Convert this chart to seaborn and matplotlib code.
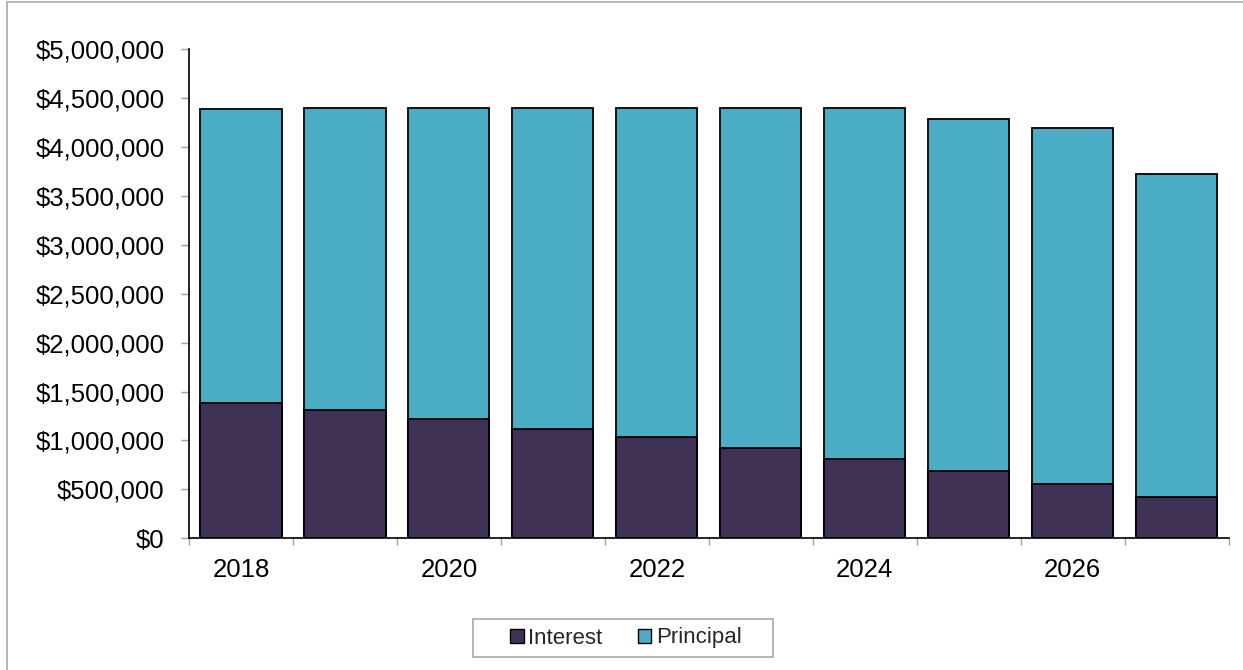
import matplotlib
matplotlib.use("Agg")
import matplotlib.pyplot as plt
from matplotlib.lines import Line2D
from matplotlib.patches import Patch, Rectangle
from matplotlib.ticker import FuncFormatter, FixedLocator
import seaborn as sns
import pandas as pd

# Annual debt service, split into interest and principal
years = [2018, 2019, 2020, 2021, 2022, 2023, 2024, 2025, 2026, 2027]
interest = [1383000, 1314000, 1222000, 1120000, 1032000, 926000, 810000, 685000, 552000, 425000]
principal = [3007000, 3086000, 3178000, 3280000, 3368000, 3474000, 3587000, 3600000, 3644000, 3295000]

interest_color = "#403254"
principal_color = "#4BACC6"

sns.set_theme(style="white")
plt.rcParams["font.family"] = ["Liberation Sans", "DejaVu Sans"]

df = pd.DataFrame({
    "year": [str(y) for y in years],
    "interest": interest,
    "total": [i + p for i, p in zip(interest, principal)],
})

W, H = 1243, 670
fig = plt.figure(figsize=(W / 100, H / 100), dpi=100)
ax = fig.add_axes([189 / W, 1 - 538.3 / H, (1228.7 - 189) / W, (538.3 - 49) / H])

# Stacked bars: full height in principal colour, interest drawn over the base
sns.barplot(data=df, x="year", y="total", color=principal_color, width=0.78,
            edgecolor="black", linewidth=1.3, saturation=1, ax=ax)
sns.barplot(data=df, x="year", y="interest", color=interest_color, width=0.78,
            edgecolor="black", linewidth=1.3, saturation=1, ax=ax)

ax.set_xlim(-0.5, len(years) - 0.5)
ax.set_ylim(0, 5000000)
ax.set_yticks(range(0, 5000001, 500000))
ax.yaxis.set_major_formatter(FuncFormatter(lambda v, _: f"${v:,.0f}"))

# Year labels on every other bar, tick marks on category boundaries
label_pos = list(range(0, len(years), 2))
ax.xaxis.set_major_locator(FixedLocator(label_pos))
ax.set_xticklabels([str(years[i]) for i in label_pos])
ax.xaxis.set_minor_locator(FixedLocator([i - 0.5 for i in range(len(years) + 1)]))
ax.tick_params(axis="x", which="major", length=0, pad=14.5, labelsize=18.5, labelcolor="black")
ax.tick_params(axis="x", which="minor", length=5, width=1, color="#A0A0A0", direction="out", bottom=True)
ax.tick_params(axis="y", which="major", length=6, width=1, color="#A0A0A0", direction="out",
               left=True, pad=11.5, labelsize=18.5, labelcolor="black")

ax.set_xlabel("")
ax.set_ylabel("")
for side in ("top", "right"):
    ax.spines[side].set_visible(False)
for side in ("left", "bottom"):
    ax.spines[side].set_color("black")
    ax.spines[side].set_linewidth(1.2)

# Legend below the plot, inside a plain grey box
handles = [
    Patch(facecolor=interest_color, edgecolor="black", linewidth=1.0, label="Interest"),
    Patch(facecolor=principal_color, edgecolor="black", linewidth=1.0, label="Principal"),
]
fig.add_artist(Rectangle((473 / W, 1 - 657 / H), 300 / W, 38 / H, transform=fig.transFigure,
                         facecolor="white", edgecolor="#A8A8A8", linewidth=1.2))
fig.legend(handles=handles, loc="center", bbox_to_anchor=(626 / W, 1 - 638 / H),
           ncol=2, fontsize=16, frameon=False,
           handlelength=0.6, handleheight=0.6, handletextpad=0.2, columnspacing=1.6,
           borderpad=0.2, borderaxespad=0)

# Light frame around the chart area
fig.add_artist(Line2D([7 / W, 7 / W], [0, 1 - 2 / H], transform=fig.transFigure,
                      color="#B0B0B0", linewidth=1.3))
fig.add_artist(Line2D([7 / W, 1], [1 - 2 / H, 1 - 2 / H], transform=fig.transFigure,
                      color="#B0B0B0", linewidth=1.3))

fig.savefig("out.png", dpi=100)
